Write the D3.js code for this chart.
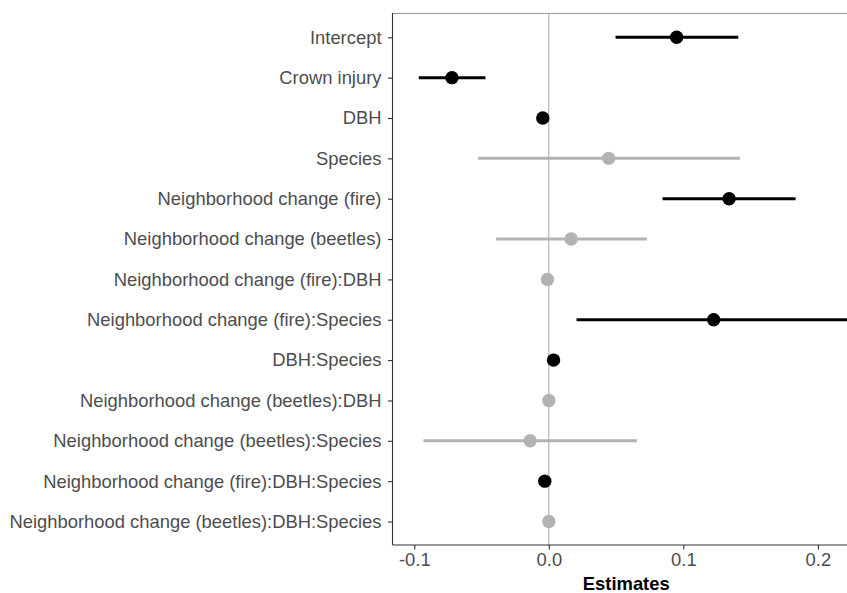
<!DOCTYPE html>
<html>
<head>
<meta charset="utf-8">
<script src="https://cdn.jsdelivr.net/npm/d3@7"></script>
<style>
  body { margin: 0; background: white; }
  svg { display: block; font-family: "Liberation Sans", Arial, sans-serif; }
</style>
</head>
<body>
<div id="vis"></div>
<script>
// model terms, top to bottom
let terms = [
  'Intercept',
  'Crown injury',
  'DBH',
  'Species',
  'Neighborhood change (fire)',
  'Neighborhood change (beetles)',
  'Neighborhood change (fire):DBH',
  'Neighborhood change (fire):Species',
  'DBH:Species',
  'Neighborhood change (beetles):DBH',
  'Neighborhood change (beetles):Species',
  'Neighborhood change (fire):DBH:Species',
  'Neighborhood change (beetles):DBH:Species'
];
let estimates = [0.095, -0.072, -0.0045, 0.0445, 0.134, 0.0166, -0.001, 0.1225, 0.0035, 0.0, -0.0139, -0.003, 0.0];
let lower     = [0.0496, -0.0967, -0.006, -0.0526, 0.0845, -0.0392, -0.002, 0.0206, 0.002, -0.001, -0.0932, -0.0045, -0.001];
let upper     = [0.1408, -0.0471, -0.003, 0.142, 0.1834, 0.0729, 0.0, 0.2244, 0.005, 0.001, 0.0654, -0.0015, 0.001];
// significant terms drawn black, others grey
let significant = [true, true, true, false, true, false, false, true, true, false, false, true, false];
let xTicks = [-0.1, 0.0, 0.1, 0.2];

let width = 847, height = 593;
let panel = { left: 392.5, top: 13, bottom: 545, right: 860 };

let svg = d3.select('#vis')
  .append('svg')
  .attr('width', width)
  .attr('height', height)
  .attr('viewBox', [0, 0, width, height].join(' '))
  .style('background-color', 'white');

let x = d3.scaleLinear()
  .domain([-0.1, 0.2])
  .range([414.3, 817.9]);

let y = d3.scalePoint()
  .domain(terms)
  .range([37.3, 521.5]);

let rows = terms.map((t, i) => ({
  term: t, est: estimates[i], lo: lower[i], hi: upper[i], sig: significant[i]
}));

// top border (panel continues past right edge)
svg.append('line')
  .attr('x1', panel.left).attr('x2', panel.right)
  .attr('y1', panel.top + 0.5).attr('y2', panel.top + 0.5)
  .attr('stroke', '#999').attr('stroke-width', 1);

// zero reference line
svg.append('line')
  .attr('x1', x(0)).attr('x2', x(0))
  .attr('y1', panel.top).attr('y2', panel.bottom)
  .attr('stroke', '#a6a6a6').attr('stroke-width', 1);

// confidence intervals
svg.append('g')
  .selectAll('line')
  .data(rows)
  .join('line')
  .attr('x1', d => x(d.lo))
  .attr('x2', d => x(d.hi))
  .attr('y1', d => y(d.term))
  .attr('y2', d => y(d.term))
  .attr('stroke', d => d.sig ? '#000' : '#b3b3b3')
  .attr('stroke-width', 3);

// point estimates
svg.append('g')
  .selectAll('circle')
  .data(rows)
  .join('circle')
  .attr('cx', d => x(d.est))
  .attr('cy', d => y(d.term))
  .attr('r', 6.7)
  .attr('fill', d => d.sig ? '#000' : '#b3b3b3');

// y axis
let yAxis = svg.append('g')
  .attr('transform', `translate(${panel.left},0)`)
  .call(d3.axisLeft(y).tickSize(4.5).tickSizeOuter(0).tickPadding(6.5));
yAxis.select('.domain').remove();
yAxis.append('line')
  .attr('x1', 0).attr('x2', 0)
  .attr('y1', panel.top).attr('y2', panel.bottom)
  .attr('stroke', '#333').attr('stroke-width', 1.1);
yAxis.selectAll('.tick line').attr('stroke', '#333').attr('stroke-width', 1.1);
yAxis.selectAll('.tick text')
  .attr('fill', '#4d4d4d')
  .style('font-size', '18.4px')
  .style('font-family', '"Liberation Sans", Arial, sans-serif');

// x axis
let xAxis = svg.append('g')
  .attr('transform', `translate(0,${panel.bottom})`)
  .call(d3.axisBottom(x).tickValues(xTicks).tickFormat(d3.format('.1f')).tickSize(4.5).tickPadding(3));
xAxis.select('.domain').remove();
xAxis.append('line')
  .attr('x1', panel.left).attr('x2', panel.right)
  .attr('y1', 0).attr('y2', 0)
  .attr('stroke', '#333').attr('stroke-width', 1.1);
xAxis.selectAll('.tick line').attr('stroke', '#333').attr('stroke-width', 1.1);
xAxis.selectAll('.tick text')
  .attr('fill', '#4d4d4d')
  .text(d => d3.format('.1f')(d).replace('−', '-'))
  .style('font-size', '18.4px')
  .style('font-family', '"Liberation Sans", Arial, sans-serif');

// axis title, centred on the full panel width
svg.append('text')
  .attr('x', (panel.left + panel.right) / 2)
  .attr('y', 590)
  .attr('text-anchor', 'middle')
  .style('font-size', '18.4px')
  .style('font-weight', 'bold')
  .attr('fill', '#000')
  .text('Estimates');
</script>
</body>
</html>
